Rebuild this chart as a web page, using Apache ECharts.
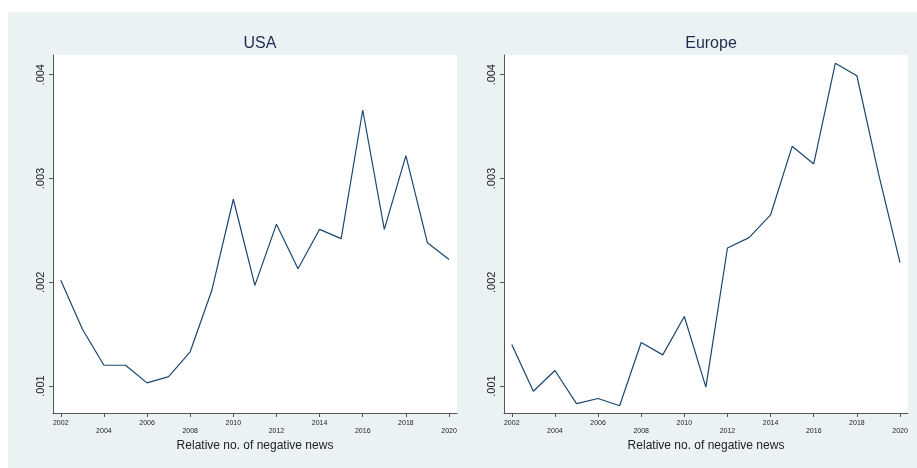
<!DOCTYPE html>
<html>
<head>
<meta charset="utf-8">
<style>
  html, body { margin: 0; padding: 0; background: #ffffff; }
  #chart { width: 917px; height: 468px; }
</style>
<script src="https://cdn.jsdelivr.net/npm/echarts@6/dist/echarts.min.js"></script>
</head>
<body>
<div id="chart"></div>
<script>
// Relative number of negative news items per year
const years = [2002, 2003, 2004, 2005, 2006, 2007, 2008, 2009, 2010, 2011,
               2012, 2013, 2014, 2015, 2016, 2017, 2018, 2019, 2020];
const usaValues = [0.00202, 0.00155, 0.00120, 0.00120, 0.00103, 0.00109, 0.00133,
                   0.00192, 0.00280, 0.00197, 0.00256, 0.00213, 0.00251, 0.00242,
                   0.00366, 0.00251, 0.00322, 0.00238, 0.00222];
const europeValues = [0.00140, 0.00095, 0.00115, 0.00083, 0.00088, 0.00081, 0.00142,
                      0.00130, 0.00167, 0.00099, 0.00233, 0.00243, 0.00265, 0.00331,
                      0.00314, 0.00411, 0.00399, 0.00305, 0.00219];
const panelTitles = ['USA', 'Europe'];
const xTickYears = [2002, 2004, 2006, 2008, 2010, 2012, 2014, 2016, 2018, 2020];
const yTickValues = [0.001, 0.002, 0.003, 0.004];
const xAxisTitle = 'Relative no. of negative news';

const navy = '#1a476f';
const textColor = '#222222';
const gridColor = '#e6eef0';
const axisColor = '#555555';

const grids = [
  { left: 53, top: 55, width: 404, height: 358 },
  { left: 504, top: 55, width: 404, height: 358 }
];

function xAxisFor(i) {
  return {
    type: 'value', gridIndex: i, min: 2001.64, max: 2020.37,
    name: xAxisTitle, nameLocation: 'middle', nameGap: 21,
    nameTextStyle: { fontFamily: 'Liberation Sans', fontSize: 12, color: textColor },
    axisLine: { show: true, lineStyle: { color: axisColor, width: 1 } },
    axisTick: { show: true, length: 4, customValues: xTickYears, lineStyle: { color: axisColor } },
    splitLine: { show: false },
    axisLabel: {
      customValues: xTickYears, margin: 6,
      fontFamily: 'Liberation Sans', fontSize: 7, color: textColor, lineHeight: 8,
      formatter: function (v) {
        // stagger alternate year labels onto a second row
        return ((v - 2002) / 2) % 2 === 1 ? '\n' + v : String(v);
      }
    }
  };
}

function yAxisFor(i) {
  return {
    type: 'value', gridIndex: i, min: 0.00074, max: 0.00419,
    axisLine: { show: true, lineStyle: { color: axisColor, width: 1 } },
    axisTick: { show: true, length: 4, customValues: yTickValues, lineStyle: { color: axisColor } },
    splitLine: { show: false },
    axisLabel: {
      customValues: yTickValues, rotate: 90, margin: 7,
      fontFamily: 'Liberation Sans', fontSize: 11, color: textColor,
      formatter: function (v) { return v.toFixed(3).replace(/^0/, ''); }
    }
  };
}

function seriesFor(i, values) {
  return {
    type: 'line', xAxisIndex: i, yAxisIndex: i,
    data: years.map((y, k) => [y, values[k]]),
    showSymbol: false, symbol: 'none',
    lineStyle: { color: navy, width: 1.2 },
    z: 3,
    markLine: {
      silent: true, symbol: 'none', label: { show: false },
      lineStyle: { color: gridColor, width: 1, type: 'solid' },
      data: yTickValues.map(v => ({ yAxis: v })),
      z: 1
    }
  };
}

const chart = echarts.init(document.getElementById('chart'), null, { renderer: 'canvas' });
chart.setOption({
  backgroundColor: '#ffffff',
  animation: false,
  graphic: [
    { type: 'rect', shape: { x: 8, y: 12, width: 909, height: 456 }, style: { fill: '#eaf2f3' }, z: -10, silent: true },
    { type: 'rect', shape: { x: 53, y: 55, width: 404, height: 358 }, style: { fill: '#ffffff' }, z: -9, silent: true },
    { type: 'rect', shape: { x: 504, y: 55, width: 404, height: 358 }, style: { fill: '#ffffff' }, z: -9, silent: true }
  ],
  title: panelTitles.map((t, i) => ({
    text: t,
    left: grids[i].left + grids[i].width / 2,
    top: 31,
    textAlign: 'center',
    textStyle: { fontFamily: 'Liberation Sans', fontSize: 16, fontWeight: 'normal', color: '#1e2d4f' }
  })),
  grid: grids,
  xAxis: [xAxisFor(0), xAxisFor(1)],
  yAxis: [yAxisFor(0), yAxisFor(1)],
  series: [seriesFor(0, usaValues), seriesFor(1, europeValues)]
});
</script>
</body>
</html>
